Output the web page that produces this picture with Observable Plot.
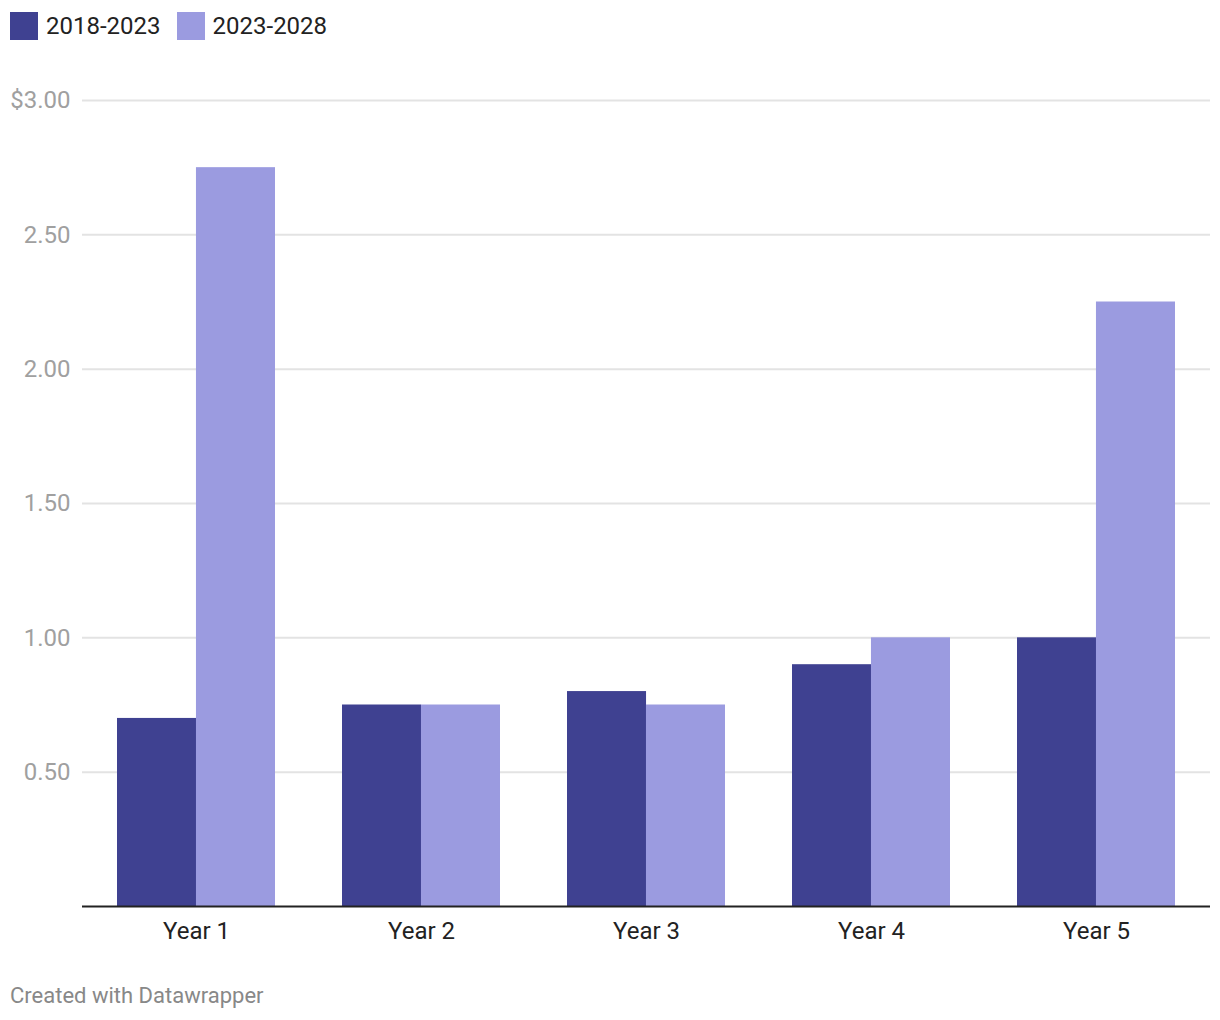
<!DOCTYPE html>
<html>
<head>
<meta charset="utf-8">
<script src="https://cdn.jsdelivr.net/npm/d3@7"></script>
<script src="https://cdn.jsdelivr.net/npm/@observablehq/plot@0.6"></script>
<style>
  html, body { margin: 0; padding: 0; background: #fff; }
  body { width: 1220px; height: 1020px; font-family: Roboto, "Noto Sans", sans-serif; position: relative; overflow: hidden; }
  #legend { position: absolute; left: 10px; top: 12px; height: 28px; display: flex; align-items: center; font-size: 24px; color: #222; }
  .item { display: flex; align-items: center; margin-right: 16px; }
  .sw { width: 28px; height: 28px; margin-right: 8px; }
  #chart { position: absolute; left: 0; top: 52px; }
  #caption { position: absolute; left: 10px; top: 983px; font-size: 22px; color: #888; }
</style>
</head>
<body>
<div id="legend"></div>
<div id="chart"></div>
<div id="caption">Created with Datawrapper</div>
<script>
const categories = ["Year 1", "Year 2", "Year 3", "Year 4", "Year 5"];
const seriesNames = ["2018-2023", "2023-2028"];
const values2018_2023 = [0.70, 0.75, 0.80, 0.90, 1.00];
const values2023_2028 = [2.75, 0.75, 0.75, 1.00, 2.25];
const yTicks = [0.5, 1.0, 1.5, 2.0, 2.5, 3.0];
const colors = ["#3f4191", "#9b9be0"];

const legend = document.getElementById("legend");
seriesNames.forEach((n, i) => {
  const it = document.createElement("div");
  it.className = "item";
  it.innerHTML = `<div class="sw" style="background:${colors[i]}"></div><span>${n}</span>`;
  legend.appendChild(it);
});

const rows = [];
categories.forEach((c, i) => {
  rows.push({year: c, series: seriesNames[0], value: values2018_2023[i]});
  rows.push({year: c, series: seriesNames[1], value: values2023_2028[i]});
});

const W = 1220, mL = 82, mR = 10;
const step = (W - mL - mR) / 5;
const bw = step * 0.7;
const half = bw / 2;

const plot = Plot.plot({
  width: W,
  height: 904,
  marginLeft: mL,
  marginRight: mR,
  marginTop: 48,
  marginBottom: 50,
  style: {fontFamily: "Roboto, 'Noto Sans', sans-serif", background: "#fff"},
  x: {domain: categories, paddingInner: 0.3, paddingOuter: 0.15, label: null},
  y: {domain: [0, 3], label: null},
  color: {domain: seriesNames, range: colors},
  marks: [
    Plot.gridY(yTicks, {stroke: "#e3e3e3", strokeOpacity: 1, strokeWidth: 2}),
    Plot.axisY(yTicks, {tickSize: 0, tickPadding: 12, fontSize: 24, fill: "#a0a0a0",
      tickFormat: d => d === 3 ? "$3.00" : d.toFixed(2), label: null}),
    Plot.barY(rows.filter(d => d.series === seriesNames[0]), {x: "year", y: "value", fill: "series", insetRight: half}),
    Plot.barY(rows.filter(d => d.series === seriesNames[1]), {x: "year", y: "value", fill: "series", insetLeft: half}),
    Plot.ruleY([0], {stroke: "#222", strokeWidth: 2}),
    Plot.axisX({tickSize: 0, tickPadding: 15, fontSize: 24, fill: "#222", label: null})
  ]
});
document.getElementById("chart").appendChild(plot);
</script>
</body>
</html>
